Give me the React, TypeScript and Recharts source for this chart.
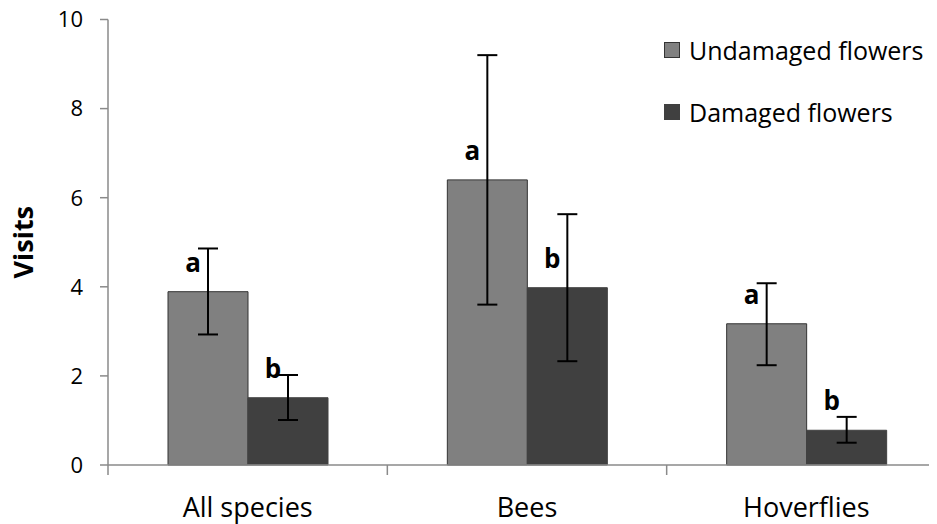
import { BarChart, Bar, XAxis, YAxis, ErrorBar, LabelList, Legend } from 'recharts'

const categories = ['All species', 'Bees', 'Hoverflies']
const seriesNames = ['Undamaged flowers', 'Damaged flowers']
const undamaged = [3.89, 6.4, 3.17]
const undamagedUpper = [4.86, 9.2, 4.08]
const undamagedLower = [2.93, 3.6, 2.24]
const damaged = [1.51, 3.98, 0.78]
const damagedUpper = [2.02, 5.63, 1.08]
const damagedLower = [1.01, 2.33, 0.5]
const undamagedLetters = ['a', 'a', 'a']
const damagedLetters = ['b', 'b', 'b']
const yTicks = [0, 2, 4, 6, 8, 10]

const data = categories.map((name, i) => ({
  name,
  undamaged: undamaged[i],
  undamagedErr: [undamaged[i] - undamagedLower[i], undamagedUpper[i] - undamaged[i]],
  undamagedLetter: undamagedLetters[i],
  damaged: damaged[i],
  damagedErr: [damaged[i] - damagedLower[i], damagedUpper[i] - damaged[i]],
  damagedLetter: damagedLetters[i],
}))

const FONT = '"Open Sans", sans-serif'
const AXIS = '#8a8a8a'
const CHART_W = 960
const LEFT = 108
const RIGHT = 14
const BAND = (CHART_W - LEFT - RIGHT) / categories.length

function CategoryTick(props: any) {
  const { x, y, payload } = props
  const bx = x - BAND / 2
  return (
    <g>
      <line x1={bx} y1={y} x2={bx} y2={y + 10} stroke={AXIS} strokeWidth={1.5} />
      <text x={x} y={y + 52} textAnchor="middle" fontFamily={FONT} fontSize={27} fill="#000">
        {payload.value}
      </text>
    </g>
  )
}

function letterLabel(props: any) {
  const { x, y, width, value } = props
  return (
    <text
      x={x + width / 2 - 15}
      y={y - 20}
      textAnchor="middle"
      fontFamily={FONT}
      fontWeight="bold"
      fontSize={26}
      fill="#000"
    >
      {value}
    </text>
  )
}

function renderLegend(props: any) {
  const items = [...props.payload].sort(
    (a: any, b: any) => seriesNames.indexOf(a.value) - seriesNames.indexOf(b.value)
  )
  return (
    <div style={{ fontFamily: FONT, fontSize: 25, color: '#000' }}>
      {items.map((entry: any, i: number) => (
        <div key={entry.value} style={{ display: 'flex', alignItems: 'center', height: 62 }}>
          <span
            style={{
              display: 'inline-block',
              width: 16,
              height: 16,
              boxSizing: 'border-box',
              background: entry.color,
              border: i === 0 ? '1px solid #333' : 'none',
              marginRight: 9,
            }}
          />
          <span style={{ lineHeight: '30px' }}>{entry.value}</span>
        </div>
      ))}
    </div>
  )
}

export default function App() {
  return (
    <div style={{ width: 937, height: 524, overflow: 'hidden', margin: '-8px 0 0 -8px', background: '#fff' }}>
      <BarChart
        width={CHART_W}
        height={524}
        data={data}
        margin={{ top: 19.5, right: RIGHT, bottom: 0, left: 0 }}
        barSize={80}
        barGap={0}
      >
        <XAxis
          dataKey="name"
          height={59}
          tick={<CategoryTick />}
          tickLine={false}
          tickSize={0}
          tickMargin={0}
          axisLine={{ stroke: AXIS, strokeWidth: 1.5 }}
          interval={0}
        />
        <YAxis
          width={LEFT}
          domain={[0, 10]}
          ticks={yTicks}
          tickSize={8}
          tickMargin={17}
          tickLine={{ stroke: AXIS, strokeWidth: 1.5 }}
          axisLine={{ stroke: AXIS, strokeWidth: 1.5 }}
          tick={{ fontFamily: FONT, fontSize: 22, fill: '#000' }}
          label={{
            content: (p: any) => {
              const vb = p.viewBox
              const cx = vb.x + 22
              const cy = vb.y + vb.height / 2
              return (
                <text
                  x={cx}
                  y={cy}
                  transform={`rotate(-90 ${cx} ${cy})`}
                  textAnchor="middle"
                  dominantBaseline="central"
                  fontFamily={FONT}
                  fontWeight="bold"
                  fontSize={27}
                  fill="#000"
                >
                  Visits
                </text>
              )
            },
          }}
        />
        <Legend
          content={renderLegend}
          layout="vertical"
          verticalAlign="middle"
          align="center"
          wrapperStyle={{ top: 19, left: 664, width: 280 }}
        />
        <Bar dataKey="undamaged" name="Undamaged flowers" fill="#808080" stroke="#333" strokeWidth={1} isAnimationActive={false}>
          <ErrorBar dataKey="undamagedErr" width={10} stroke="#000" strokeWidth={2} isAnimationActive={false} />
          <LabelList dataKey="undamagedLetter" content={letterLabel} />
        </Bar>
        <Bar dataKey="damaged" name="Damaged flowers" fill="#404040" stroke="#404040" strokeWidth={1} isAnimationActive={false}>
          <ErrorBar dataKey="damagedErr" width={10} stroke="#000" strokeWidth={2} isAnimationActive={false} />
          <LabelList dataKey="damagedLetter" content={letterLabel} />
        </Bar>
      </BarChart>
    </div>
  )
}
